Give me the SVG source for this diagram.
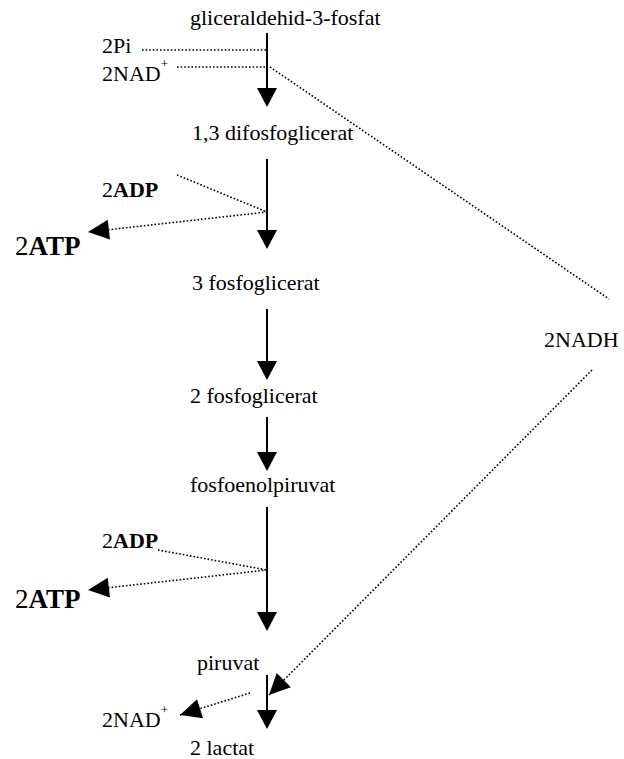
<svg xmlns="http://www.w3.org/2000/svg" width="624" height="759" viewBox="0 0 624 759">
<style>
text{font-family:"Liberation Serif","Times New Roman",serif;font-size:22px;fill:#000}
.b{font-weight:bold}
.big{font-size:27px}
.sup{font-size:13px}
.main{stroke:#000;stroke-width:2;fill:none}
.dot{stroke:#000;stroke-width:1.6;stroke-dasharray:1.6 2;fill:none}
</style>
<defs>
<marker id="hb" markerUnits="userSpaceOnUse" markerWidth="20" markerHeight="20" refX="0" refY="10" orient="auto" overflow="visible">
<path d="M0,0 L19,10 L0,20 z" fill="#000"/>
</marker>
<marker id="ht" markerUnits="userSpaceOnUse" markerWidth="22" markerHeight="20" refX="21" refY="10" orient="auto" overflow="visible">
<path d="M0,0 L21,10 L0,20 z" fill="#000"/>
</marker>
</defs>
<rect width="624" height="759" fill="#fff"/>
<g id="connectors">
<line class="main" x1="267" y1="33" x2="267" y2="88" marker-end="url(#hb)"/>
<line class="main" x1="267" y1="159" x2="267" y2="230" marker-end="url(#hb)"/>
<line class="main" x1="267" y1="309" x2="267" y2="361" marker-end="url(#hb)"/>
<line class="main" x1="267" y1="417" x2="267" y2="452" marker-end="url(#hb)"/>
<line class="main" x1="267" y1="507" x2="267" y2="612" marker-end="url(#hb)"/>
<line class="main" x1="267" y1="675" x2="267" y2="710" marker-end="url(#hb)"/>
<line class="dot" x1="142" y1="50" x2="267" y2="50"/>
<line class="dot" x1="177" y1="67" x2="267" y2="67"/>
<line class="dot" x1="270" y1="67" x2="609" y2="299"/>
<line class="dot" x1="177" y1="175" x2="267" y2="212"/>
<line class="dot" x1="267" y1="212" x2="88" y2="232" marker-end="url(#ht)"/>
<line class="dot" x1="158" y1="550" x2="267" y2="570"/>
<line class="dot" x1="267" y1="570" x2="88" y2="590" marker-end="url(#ht)"/>
<line class="dot" x1="592" y1="370" x2="269" y2="695" marker-end="url(#ht)"/>
<line class="dot" x1="250" y1="693" x2="180" y2="715" marker-end="url(#ht)"/>
</g>
<g id="n-gliceraldehid"><text x="190" y="25">gliceraldehid-3-fosfat</text></g>
<g id="n-2pi"><text x="102" y="53">2Pi</text></g>
<g id="n-2nad-1"><text x="102" y="81">2NAD<tspan class="sup" dy="-13">+</tspan></text></g>
<g id="n-difosfoglicerat"><text x="192" y="140">1,3 difosfoglicerat</text></g>
<g id="n-2adp-1"><text x="102" y="197">2<tspan class="b">ADP</tspan></text></g>
<g id="n-2atp-1"><text class="big" x="15" y="255">2<tspan class="b">ATP</tspan></text></g>
<g id="n-3fosfoglicerat"><text x="192" y="290">3 fosfoglicerat</text></g>
<g id="n-2nadh"><text x="544" y="347">2NADH</text></g>
<g id="n-2fosfoglicerat"><text x="190" y="403">2 fosfoglicerat</text></g>
<g id="n-fosfoenolpiruvat"><text x="190" y="492">fosfoenolpiruvat</text></g>
<g id="n-2adp-2"><text x="102" y="548">2<tspan class="b">ADP</tspan></text></g>
<g id="n-2atp-2"><text class="big" x="15" y="608">2<tspan class="b">ATP</tspan></text></g>
<g id="n-piruvat"><text x="197" y="670">piruvat</text></g>
<g id="n-2nad-2"><text x="102" y="727">2NAD<tspan class="sup" dy="-13">+</tspan></text></g>
<g id="n-lactat"><text x="190" y="755">2 lactat</text></g>
</svg>
